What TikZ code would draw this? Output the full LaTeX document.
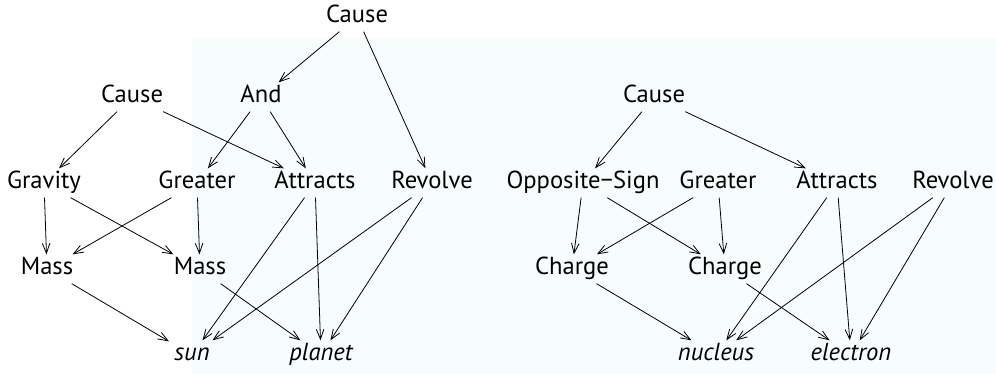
\documentclass[tikz,border=0pt]{standalone}
\usepackage{fontspec}
\setmainfont{PT Sans}
\usetikzlibrary{arrows.meta}
\definecolor{bgtint}{RGB}{247,252,252}

\begin{document}
\begin{tikzpicture}[x=0.5pt, y=-0.5pt, font=\fontsize{12.3}{14}\selectfont,
    word node/.style={inner sep=2.5pt, text height=1.5ex, text depth=.35ex},
    obj node/.style={word node, font=\fontsize{12.3}{14}\selectfont\itshape},
    link/.style={-{Straight Barb[length=5pt,width=3.8pt]}, line width=.4pt}]
\useasboundingbox (0,0) rectangle (996,374);
\fill[bgtint] (192,38) rectangle (996,374);

% solar system
\node[word node] (causeT)    at (357,17)  {Cause};
\node[word node] (causeL)    at (132,97)  {Cause};
\node[word node] (and)       at (261,97)  {And};
\node[word node] (gravity)   at (44,183)  {Gravity};
\node[word node] (greaterL)  at (197,183) {Greater};
\node[word node] (attractsL) at (315,183) {Attracts};
\node[word node] (revolveL)  at (432,183) {Revolve};
\node[word node] (massA)     at (47,269)  {Mass};
\node[word node] (massB)     at (200,269) {Mass};
\node[obj node]  (sun)       at (192,355) {sun};
\node[obj node]  (planet)    at (321,355) {planet};

\path[link] (causeT) edge (and) edge (revolveL);
\path[link] (causeL) edge (gravity) edge (attractsL);
\path[link] (and) edge (greaterL) edge (attractsL);
\path[link] (gravity) edge (massA) edge (massB);
\path[link] (greaterL) edge (massA) edge (massB);
\path[link] (attractsL) edge (sun) edge (planet);
\path[link] (revolveL) edge (sun) edge (planet);
\path[link] (massA) edge (sun);
\path[link] (massB) edge (planet);

% atom
\node[word node] (causeR)    at (654,97)  {Cause};
\node[word node] (opposite)  at (583,183) {Opposite−Sign};
\node[word node] (greaterR)  at (718,183) {Greater};
\node[word node] (attractsR) at (837,183) {Attracts};
\node[word node] (revolveR)  at (953,183) {Revolve};
\node[word node] (chargeA)   at (572,269) {Charge};
\node[word node] (chargeB)   at (725,269) {Charge};
\node[obj node]  (nucleus)   at (716,355) {nucleus};
\node[obj node]  (electron)  at (851,355) {electron};

\path[link] (causeR) edge (opposite) edge (attractsR);
\path[link] (opposite) edge (chargeA) edge (chargeB);
\path[link] (greaterR) edge (chargeA) edge (chargeB);
\path[link] (attractsR) edge (nucleus) edge (electron);
\path[link] (revolveR) edge (nucleus) edge (electron);
\path[link] (chargeA) edge (nucleus);
\path[link] (chargeB) edge (electron);
\end{tikzpicture}
\end{document}
